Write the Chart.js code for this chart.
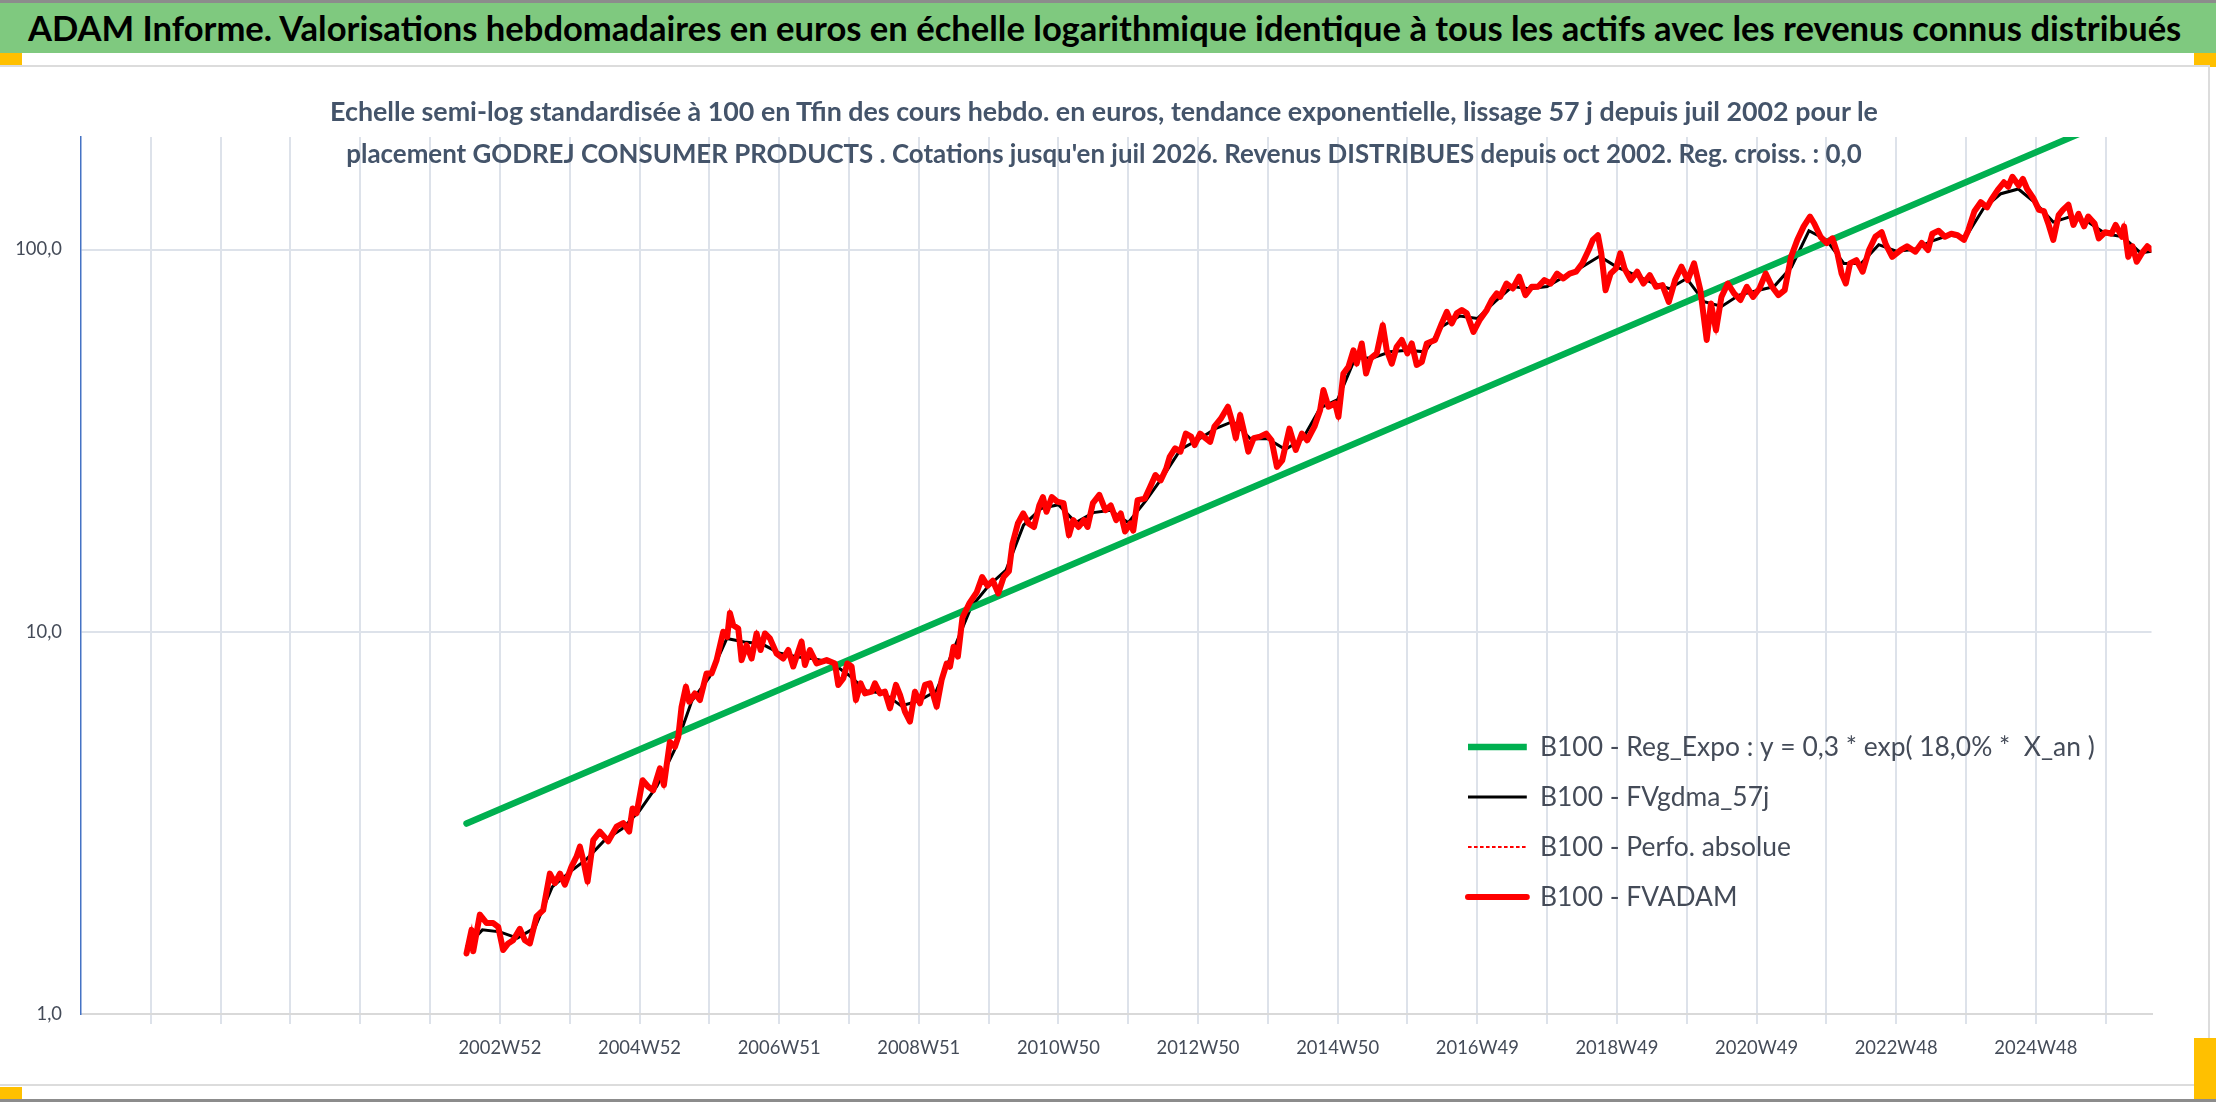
<!DOCTYPE html>
<html lang="fr">
<head>
<meta charset="utf-8">
<title>ADAM Informe - GODREJ CONSUMER PRODUCTS</title>
<script src="https://cdn.jsdelivr.net/npm/chart.js@4.4.1/dist/chart.umd.min.js"></script>
<style>
  html, body { margin: 0; padding: 0; }
  body {
    width: 2216px; height: 1102px; position: relative; overflow: hidden; background: #fff;
    font-family: Lato, 'DejaVu Sans Condensed', sans-serif;
  }
  #topline { position: absolute; left: 0; top: 0; width: 2216px; height: 3px; background: #8c8c8c; }
  #band { position: absolute; left: 0; top: 3px; width: 2216px; height: 50px; background: #7fc97f; }
  #band span {
    position: absolute; left: 28px; top: 0; line-height: 50px; font-size: 32px; font-weight: bold;
    color: #000; white-space: nowrap;
  }
  .handle { position: absolute; background: #ffc000; }
  #frame {
    position: absolute; left: 0; top: 65px; width: 2208px; height: 1017px;
    border-top: 2px solid #dcdcdc; border-right: 2px solid #dcdcdc; border-bottom: 2px solid #dcdcdc;
  }
  #chart { position: absolute; left: 0; top: 67px; }
  .sub {
    position: absolute; left: 0; width: 2208px; text-align: center; line-height: 40px;
    font-size: 28px; font-weight: bold; color: #44546a; z-index: 2;
  }
  .sub span { display: inline-block; white-space: nowrap; }
  #bottomline { position: absolute; left: 0; top: 1099px; width: 2216px; height: 3px; background: #8c8c8c; }
</style>
</head>
<body>
<div id="topline"></div>
<div id="band"><span id="title">ADAM Informe. Valorisations hebdomadaires en euros en échelle logarithmique identique à tous les actifs avec les revenus connus distribués</span></div>
<div class="handle" style="left:0;top:53px;width:22px;height:13px"></div>
<div class="handle" style="left:2194px;top:53px;width:22px;height:14px"></div>
<div id="frame"></div>
<canvas id="chart" width="2208" height="1017"></canvas>
<div class="sub" style="top:90px"><span id="sub1">Echelle semi-log standardisée à 100 en Tfin des cours hebdo. en euros, tendance exponentielle, lissage 57 j depuis juil 2002 pour le</span></div>
<div class="sub" style="top:132px"><span id="sub2">placement GODREJ CONSUMER PRODUCTS . Cotations jusqu'en juil 2026. Revenus DISTRIBUES depuis oct 2002. Reg. croiss. : 0,0</span></div>
<div class="handle" style="left:0;top:1087px;width:22px;height:13px"></div>
<div class="handle" style="left:2194px;top:1038px;width:22px;height:62px"></div>
<div id="bottomline"></div>

<script>
// tick labels of the week axis, one every two years
const xTickLabels = ['2002W52', '2004W52', '2006W51', '2008W51', '2010W50', '2012W50',
  '2014W50', '2016W49', '2018W49', '2020W49', '2022W48', '2024W48'];
const labelYears = [2003, 2005, 2007, 2009, 2011, 2013, 2015, 2017, 2019, 2021, 2023, 2025];

// B100 - FVADAM (decimal years)
const fvadamYears = [
  2002.522, 2002.594, 2002.618, 2002.713, 2002.810, 2002.904, 2002.976, 2003.047, 2003.119, 2003.190,
  2003.286, 2003.358, 2003.430, 2003.525, 2003.620, 2003.716, 2003.788, 2003.860, 2003.930, 2004.026,
  2004.098, 2004.146, 2004.193, 2004.256, 2004.337, 2004.432, 2004.552, 2004.671, 2004.766, 2004.852,
  2004.900, 2004.958, 2005.044, 2005.125, 2005.196, 2005.292, 2005.349, 2005.435, 2005.507, 2005.555,
  2005.602, 2005.664, 2005.712, 2005.793, 2005.865, 2005.960, 2006.032, 2006.104, 2006.199, 2006.256,
  2006.295, 2006.342, 2006.414, 2006.462, 2006.533, 2006.605, 2006.677, 2006.734, 2006.796, 2006.868,
  2006.963, 2007.059, 2007.131, 2007.202, 2007.321, 2007.369, 2007.441, 2007.537, 2007.680, 2007.799,
  2007.847, 2007.918, 2007.976, 2008.038, 2008.100, 2008.167, 2008.229, 2008.325, 2008.372, 2008.444,
  2008.515, 2008.587, 2008.673, 2008.731, 2008.802, 2008.874, 2008.945, 2009.017, 2009.089, 2009.160,
  2009.256, 2009.327, 2009.399, 2009.447, 2009.498, 2009.560, 2009.626, 2009.728, 2009.831, 2009.908,
  2009.984, 2010.061, 2010.138, 2010.215, 2010.291, 2010.342, 2010.419, 2010.496, 2010.573, 2010.650,
  2010.726, 2010.778, 2010.829, 2010.905, 2010.982, 2011.074, 2011.151, 2011.213, 2011.289, 2011.366,
  2011.417, 2011.494, 2011.586, 2011.673, 2011.750, 2011.827, 2011.893, 2011.955, 2012.031, 2012.072,
  2012.134, 2012.236, 2012.313, 2012.390, 2012.466, 2012.543, 2012.594, 2012.671, 2012.748, 2012.825,
  2012.901, 2012.952, 2013.030, 2013.106, 2013.173, 2013.234, 2013.326, 2013.428, 2013.490, 2013.541,
  2013.603, 2013.654, 2013.720, 2013.797, 2013.889, 2013.976, 2014.053, 2014.130, 2014.206, 2014.309,
  2014.400, 2014.488, 2014.564, 2014.667, 2014.748, 2014.796, 2014.867, 2014.963, 2015.011, 2015.082,
  2015.154, 2015.226, 2015.273, 2015.345, 2015.407, 2015.474, 2015.560, 2015.646, 2015.703, 2015.775,
  2015.846, 2015.918, 2015.999, 2016.061, 2016.133, 2016.205, 2016.276, 2016.395, 2016.491, 2016.563,
  2016.634, 2016.706, 2016.778, 2016.849, 2016.945, 2017.031, 2017.136, 2017.207, 2017.279, 2017.327,
  2017.418, 2017.508, 2017.599, 2017.689, 2017.780, 2017.870, 2017.961, 2018.052, 2018.142, 2018.233,
  2018.323, 2018.414, 2018.505, 2018.595, 2018.655, 2018.728, 2018.776, 2018.837, 2018.909, 2018.988,
  2019.048, 2019.108, 2019.199, 2019.290, 2019.380, 2019.471, 2019.561, 2019.652, 2019.743, 2019.833,
  2019.924, 2020.014, 2020.105, 2020.195, 2020.286, 2020.347, 2020.419, 2020.497, 2020.588, 2020.678,
  2020.769, 2020.860, 2020.950, 2021.041, 2021.131, 2021.222, 2021.313, 2021.403, 2021.494, 2021.584,
  2021.675, 2021.765, 2021.826, 2021.917, 2022.007, 2022.086, 2022.158, 2022.218, 2022.279, 2022.339,
  2022.430, 2022.520, 2022.611, 2022.702, 2022.792, 2022.853, 2022.943, 2023.064, 2023.155, 2023.275,
  2023.366, 2023.456, 2023.517, 2023.607, 2023.698, 2023.789, 2023.879, 2023.970, 2024.030, 2024.121,
  2024.211, 2024.302, 2024.362, 2024.453, 2024.543, 2024.604, 2024.665, 2024.755, 2024.815, 2024.876,
  2024.967, 2025.045, 2025.117, 2025.178, 2025.250, 2025.327, 2025.388, 2025.467, 2025.539, 2025.612,
  2025.691, 2025.751, 2025.842, 2025.902, 2025.992, 2026.083, 2026.143, 2026.234, 2026.264, 2026.324,
  2026.385, 2026.445, 2026.517, 2026.597, 2026.657
];
const fvadamValues = [
  1.44, 1.66, 1.46, 1.82, 1.73, 1.73, 1.69, 1.47, 1.53, 1.56,
  1.67, 1.56, 1.53, 1.80, 1.87, 2.33, 2.20, 2.33, 2.18, 2.43,
  2.58, 2.74, 2.53, 2.22, 2.85, 3.00, 2.83, 3.09, 3.16, 3.00,
  3.45, 3.35, 4.09, 3.93, 3.85, 4.39, 3.97, 5.15, 5.00, 5.31,
  6.36, 7.18, 6.56, 6.90, 6.63, 7.78, 7.78, 8.43, 10.0, 9.70,
  11.2, 10.4, 10.2, 8.43, 9.23, 8.51, 9.90, 8.96, 9.90, 9.61,
  8.77, 8.51, 8.96, 8.11, 9.42, 8.19, 8.96, 8.26, 8.43, 8.26,
  7.26, 7.55, 8.26, 8.11, 6.63, 7.33, 6.90, 6.97, 7.33, 6.90,
  6.97, 6.31, 7.26, 6.84, 6.18, 5.82, 6.97, 6.50, 7.26, 7.33,
  6.37, 7.48, 8.26, 8.10, 9.14, 8.61, 10.9, 11.9, 12.7, 13.9,
  13.2, 13.6, 12.6, 13.9, 14.4, 17.0, 19.2, 20.4, 19.2, 18.8,
  21.4, 22.5, 20.6, 22.5, 21.9, 21.7, 17.9, 19.6, 18.8, 19.6,
  18.8, 21.7, 22.8, 20.8, 21.4, 19.6, 20.4, 18.3, 19.2, 18.4,
  22.1, 22.3, 23.9, 25.7, 24.9, 26.7, 28.7, 30.2, 29.6, 33.0,
  32.4, 30.8, 33.0, 32.1, 31.4, 34.4, 36.1, 38.8, 35.4, 32.1,
  36.9, 33.7, 29.6, 32.1, 32.4, 33.0, 31.7, 27.0, 28.1, 34.0,
  29.9, 33.0, 31.7, 34.4, 38.0, 42.9, 38.8, 39.6, 36.5, 47.4,
  49.3, 54.5, 50.3, 56.8, 47.4, 51.9, 53.5, 63.4, 54.5, 50.3,
  55.7, 58.0, 53.5, 56.8, 49.9, 50.8, 56.8, 58.0, 64.1, 68.7,
  64.1, 68.1, 69.5, 68.1, 60.9, 65.3, 69.5, 73.8, 76.8, 75.2,
  81.5, 79.1, 84.9, 76.0, 79.9, 79.9, 83.2, 81.5, 86.5, 84.0,
  86.5, 87.5, 92.0, 99.7, 106, 109, 97.7, 78.3, 86.5, 89.3,
  97.7, 89.3, 83.2, 87.5, 81.5, 85.7, 79.9, 80.7, 72.9, 83.2,
  90.2, 83.2, 92.0, 78.3, 58.0, 72.3, 61.5, 75.2, 81.5, 76.8,
  73.8, 79.9, 75.2, 79.1, 86.5, 79.9, 76.0, 78.3, 95.7, 106,
  115, 122, 117, 108, 104, 107, 97.7, 86.5, 81.5, 92.0,
  93.8, 87.5, 99.7, 108, 111, 103, 95.7, 99.7, 102, 98.7,
  104, 99.7, 110, 112, 108, 110, 109, 106, 112, 126,
  133, 129, 135, 143, 150, 146, 155, 147, 153, 144,
  136, 127, 126, 117, 106, 123, 127, 131, 116, 124,
  115, 122, 117, 107, 111, 110, 116, 108, 115, 95.7,
  102, 92.9, 97.7, 102, 100
];

// B100 - FVgdma_57j (smoothed line, read every quarter)
const gdmaYears = [
  2002.52, 2002.75, 2003.00, 2003.25, 2003.50, 2003.75, 2004.00, 2004.25, 2004.50, 2004.75,
  2005.00, 2005.25, 2005.50, 2005.75, 2006.00, 2006.25, 2006.50, 2006.75, 2007.00, 2007.25,
  2007.50, 2007.75, 2008.00, 2008.25, 2008.50, 2008.75, 2009.00, 2009.25, 2009.50, 2009.75,
  2010.00, 2010.25, 2010.50, 2010.75, 2011.00, 2011.25, 2011.50, 2011.75, 2012.00, 2012.25,
  2012.50, 2012.75, 2013.00, 2013.25, 2013.50, 2013.75, 2014.00, 2014.25, 2014.50, 2014.75,
  2015.00, 2015.25, 2015.50, 2015.75, 2016.00, 2016.25, 2016.50, 2016.75, 2017.00, 2017.25,
  2017.50, 2017.75, 2018.00, 2018.25, 2018.50, 2018.75, 2019.00, 2019.25, 2019.50, 2019.75,
  2020.00, 2020.25, 2020.50, 2020.75, 2021.00, 2021.25, 2021.50, 2021.75, 2022.00, 2022.25,
  2022.50, 2022.75, 2023.00, 2023.25, 2023.50, 2023.75, 2024.00, 2024.25, 2024.50, 2024.75,
  2025.00, 2025.25, 2025.50, 2025.75, 2026.00, 2026.25, 2026.50, 2026.657
];
const gdmaValues = [
  1.50, 1.66, 1.64, 1.58, 1.68, 2.15, 2.35, 2.55, 2.85, 3.05,
  3.40, 3.95, 4.90, 6.60, 7.60, 9.60, 9.40, 9.30, 8.80, 8.60,
  8.50, 8.30, 7.70, 7.00, 6.90, 6.40, 6.60, 7.00, 9.00, 11.6,
  13.2, 14.5, 19.0, 21.0, 21.5, 19.3, 20.5, 20.8, 19.3, 22.0,
  25.5, 30.0, 31.8, 34.0, 35.5, 32.0, 32.0, 30.0, 32.0, 38.5,
  40.5, 52.0, 52.0, 54.0, 54.5, 54.0, 63.0, 67.0, 66.0, 73.0,
  80.0, 79.0, 80.0, 85.0, 90.0, 96.0, 90.0, 86.0, 82.0, 79.0,
  84.0, 73.0, 71.0, 76.0, 78.0, 80.0, 90.0, 112, 106, 92.0,
  92.0, 103, 99.0, 100, 105, 109, 108, 128, 140, 144,
  132, 118, 122, 118, 110, 108, 98.0, 99.0
];

// B100 - Reg_Expo : end points of the exponential trend
const regYears = [2002.522, 2026.657];
const regValues = [3.15, 242];

const gridColor = '#dde2ea';
const textColor = '#444b58';
const fontFamily = "Lato, 'DejaVu Sans Condensed', sans-serif";

// font size giving a text the width it has in the original
const measureCtx = document.createElement('canvas').getContext('2d');
function sizeFor(text, weight, target) {
  measureCtx.font = weight + ' 100px ' + fontFamily;
  return 100 * target / measureCtx.measureText(text).width;
}

const tickSize = sizeFor('2002W52', 'normal', 83);
const legendSize = sizeFor('B100 - Reg_Expo : y = 0,3 * exp( 18,0% *  X_an )', 'normal', 555);
const legendPad = 50 - legendSize;

function points(xs, ys) {
  return xs.map((x, i) => ({ x: x, y: ys[i] }));
}

// move the legend inside the plot, lower right
const legendPlace = {
  id: 'legendPlace',
  afterLayout(chart) {
    const lg = chart.legend;
    if (!lg) return;
    lg.left = 1468 - legendPad;
    lg.top = 680 - legendPad - legendSize / 2;
    lg.right = lg.left + lg.width;
    lg.bottom = chart.chartArea.bottom;
  }
};

new Chart(document.getElementById('chart'), {
  type: 'line',
  data: {
    datasets: [
      {
        label: 'B100 - Reg_Expo : y = 0,3 * exp( 18,0% *  X_an )',
        data: points(regYears, regValues),
        borderColor: '#00b050', backgroundColor: '#00b050',
        borderWidth: 6.5, borderCapStyle: 'round', clip: 0, order: 3
      },
      {
        label: 'B100 - FVgdma_57j',
        data: points(gdmaYears, gdmaValues),
        borderColor: '#000000', backgroundColor: '#000000',
        borderWidth: 3, order: 4
      },
      {
        label: 'B100 - Perfo. absolue',
        data: points(fvadamYears, fvadamValues),
        borderColor: '#ff0000', backgroundColor: '#ff0000',
        borderWidth: 2, borderDash: [3, 3], order: 2
      },
      {
        label: 'B100 - FVADAM',
        data: points(fvadamYears, fvadamValues),
        borderColor: '#ff0000', backgroundColor: '#ff0000',
        borderWidth: 6, borderCapStyle: 'round', borderJoinStyle: 'round', order: 1
      }
    ]
  },
  options: {
    responsive: false,
    devicePixelRatio: 1,
    animation: false,
    layout: { padding: { top: 70, right: 56.5, left: 0, bottom: 0 } },
    elements: { point: { radius: 0 }, line: { tension: 0 } },
    scales: {
      x: {
        type: 'linear',
        min: 1997,
        max: 2026.657,
        bounds: 'data',
        afterBuildTicks(scale) {
          const t = [];
          for (let y = 1997; y <= scale.max; y++) t.push({ value: y });
          scale.ticks = t;
        },
        afterFit(scale) { scale.height = 70; },
        grid: {
          color: (c) => (c.tick && c.tick.value === 1997 ? 'rgba(0,0,0,0)' : gridColor),
          lineWidth: 2, tickLength: 10, drawTicks: true
        },
        border: { color: '#d9d9d9', width: 2 },
        ticks: {
          autoSkip: false, maxRotation: 0, padding: 13, color: textColor,
          font: { family: fontFamily, size: tickSize },
          callback: (v) => {
            const i = labelYears.indexOf(v);
            return i < 0 ? '' : xTickLabels[i];
          }
        }
      },
      y: {
        type: 'logarithmic',
        min: 1,
        max: 197,
        afterBuildTicks(scale) {
          scale.ticks = [1, 10, 100].map((v) => ({ value: v }));
        },
        afterFit(scale) { scale.width = 81; },
        grid: { color: gridColor, lineWidth: 2, drawTicks: false },
        border: { color: '#4472c4', width: 1.5 },
        ticks: {
          padding: 19, color: textColor,
          font: { family: fontFamily, size: tickSize },
          callback: (v) => v.toFixed(1).replace('.', ',')
        }
      }
    },
    plugins: {
      title: { display: false },
      tooltip: { enabled: false },
      legend: {
        position: 'chartArea',
        align: 'start',
        labels: {
          boxWidth: 72 - legendSize / 2, boxHeight: 0, padding: legendPad, color: textColor,
          font: { family: fontFamily, size: legendSize },
          sort: (a, b) => a.datasetIndex - b.datasetIndex
        }
      }
    }
  },
  plugins: [legendPlace]
});

// header texts get the size that gives their original widths
function fitText(id, target) {
  const el = document.getElementById(id);
  el.style.fontSize = sizeFor(el.textContent, 'bold', target).toFixed(2) + 'px';
}
fitText('title', 2155);
fitText('sub1', 1550);
fitText('sub2', 1516);
</script>
</body>
</html>
